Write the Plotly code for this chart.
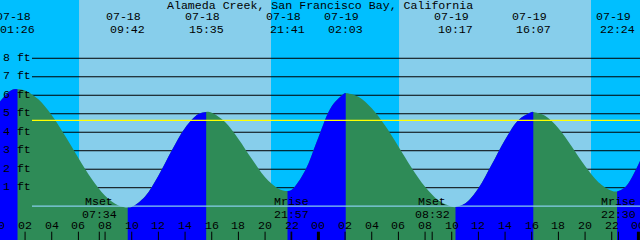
import plotly.graph_objects as go

# ---------------- data ----------------
title_text = "Alameda Creek, San Francisco Bay, California"

# tide extremes
ext_date = ["07-18", "07-18", "07-18", "07-18", "07-19", "07-19", "07-19", "07-19"]
ext_time = ["01:26", "09:42", "15:35", "21:41", "02:03", "10:17", "16:07", "22:24"]
ext_height = [6.33, -0.07, 5.10, 0.82, 6.12, -0.05, 5.10, 0.80]
ext_kind = ["H", "L", "H", "L", "H", "L", "H", "L"]

# hourly tide heights (ft), hours from 07-18 00:00
hour_t = list(range(-1, 50))
hour_h = [4.40, 5.55, 6.29, 6.26, 5.78, 4.92, 3.81, 2.61, 1.47, 0.57,
          0.04, -0.04, 0.53, 1.65, 3.01, 4.23, 4.98, 5.05, 4.55, 3.64,
          2.56, 1.57, 0.95, 0.89, 1.92, 3.72, 5.40, 6.12, 5.92, 5.30,
          4.36, 3.23, 2.07, 1.05, 0.32, -0.03, 0.14, 0.97, 2.25, 3.60,
          4.65, 5.09, 4.89, 4.22, 3.23, 2.17, 1.30, 0.84, 1.02, 2.26,
          4.03]

# sun: sunrise / sunset
sun_date = ["07-18", "07-18", "07-19", "07-19"]
sun_time = ["06:03", "20:27", "06:03", "20:27"]

# moon events
moon_date = ["07-18", "07-18", "07-19", "07-19"]
moon_time = ["07:34", "21:57", "08:32", "22:30"]
moon_label = ["Mset", "Mrise", "Mset", "Mrise"]

level_ft = [1, 2, 3, 4, 5, 6, 7, 8]
mean_level = 4.646
datum_level = 0.0
hour_ticks = list(range(0, 49, 2))

# ---------------- helpers ----------------
day_off = {"07-18": 0, "07-19": 24}


def to_h(d, t):
    hh, mm = t.split(":")
    return day_off[d] + int(hh) + int(mm) / 60.0


X0, X1 = 0.12, 48.12
Y0, Y1 = -1.828, 11.152
W, H = 640, 240
BASE = -3.0

NIGHT = "#00BFFF"
DAY = "#87CEEB"
RISE = "#0000FF"
FALL = "#2E8B57"
FONT = "Liberation Mono"
FS = 11.6

ext_t = [to_h(d, t) for d, t in zip(ext_date, ext_time)]

pts = sorted(list(zip(hour_t, hour_h)) + list(zip(ext_t, ext_height)))
all_t = [p[0] for p in pts]
all_h = [p[1] for p in pts]

fig = go.Figure()


def add_fill(ts, hs, color):
    fig.add_trace(go.Scatter(x=[ts[0], ts[-1]], y=[BASE, BASE], mode="lines",
                             line=dict(width=0), hoverinfo="skip", showlegend=False))
    fig.add_trace(go.Scatter(x=ts, y=hs, mode="lines", fill="tonexty",
                             fillcolor=color, line=dict(width=0, shape="spline", color=color),
                             hoverinfo="skip", showlegend=False))


# falling colour under the whole curve
add_fill(all_t, all_h, FALL)

# rising segments on top
bounds = [all_t[0]] + ext_t + [all_t[-1]]
for i in range(len(bounds) - 1):
    a, b = bounds[i], bounds[i + 1]
    # segment is rising if it ends at a high (or starts at the last low)
    if i < len(ext_kind):
        rising = ext_kind[i] == "H"
    else:
        rising = ext_kind[-1] == "L"
    if not rising:
        continue
    seg = [(t, h) for t, h in pts if a - 1e-9 <= t <= b + 1e-9]
    add_fill([s[0] for s in seg], [s[1] for s in seg], RISE)

shapes = []
# day / night bands
sun_t = [to_h(d, t) for d, t in zip(sun_date, sun_time)]
edges = [X0 - 1] + sun_t + [X1 + 1]
for i in range(len(edges) - 1):
    shapes.append(dict(type="rect", xref="x", yref="paper", x0=edges[i], x1=edges[i + 1],
                       y0=0, y1=1, fillcolor=NIGHT if i % 2 == 0 else DAY,
                       line=dict(width=0), layer="below"))
# level lines (behind the tide)
for lv in level_ft:
    shapes.append(dict(type="line", xref="paper", yref="y", x0=32 / W, x1=1, y0=lv, y1=lv,
                       line=dict(color="black", width=1), layer="below"))
# mean level and datum lines (on top)
shapes.append(dict(type="line", xref="paper", yref="y", x0=32 / W, x1=1, y0=mean_level,
                   y1=mean_level, line=dict(color="#FFFF00", width=1.2)))
shapes.append(dict(type="line", xref="paper", yref="y", x0=32 / W, x1=1, y0=datum_level,
                   y1=datum_level, line=dict(color=DAY, width=1.2)))
# hour ticks
for ht in hour_ticks:
    shapes.append(dict(type="line", xref="x", yref="paper", x0=ht, x1=ht, y0=0, y1=8.3 / H,
                       line=dict(color="black", width=3 if ht % 24 == 0 else 1)))
# moon ticks
moon_t = [to_h(d, t) for d, t in zip(moon_date, moon_time)]
for mt in moon_t:
    shapes.append(dict(type="line", xref="x", yref="paper", x0=mt, x1=mt, y0=0, y1=8.3 / H,
                       line=dict(color="black", width=1)))

ann = []


def txt(x, ypx, s, xref="x", xanchor="center", xshift=0):
    if xref == "x" and not (X0 <= x <= X1):
        x = (x - X0) / (X1 - X0)
        xref = "paper"
    ann.append(dict(x=x, xref=xref, y=1 - ypx / H, yref="paper", text=s, showarrow=False,
                    xanchor=xanchor, yanchor="middle", xshift=xshift,
                    font=dict(family=FONT, size=FS, color="black")))


txt(0.5, 5.5, title_text, xref="paper")
for t, d, tm in zip(ext_t, ext_date, ext_time):
    txt(t, 17, d, xshift=-4)
    txt(t, 29, tm)
for lv in level_ft:
    y_px = (Y1 - lv) / (Y1 - Y0) * H - 1
    ann.append(dict(x=1 / W, xref="paper", y=1 - y_px / H, yref="paper", text=f"{lv} ft",
                    showarrow=False, xanchor="left", yanchor="middle",
                    font=dict(family=FONT, size=FS, color="black")))
for ht in hour_ticks:
    txt(ht, 225.5, f"{ht % 24:02d}")
for mt, lab, tm in zip(moon_t, moon_label, moon_time):
    txt(mt, 201, lab)
    txt(mt, 214, tm)

fig.update_layout(
    width=W, height=H, margin=dict(l=0, r=0, t=0, b=0),
    paper_bgcolor=NIGHT, plot_bgcolor=NIGHT,
    xaxis=dict(range=[X0, X1], visible=False, fixedrange=True),
    yaxis=dict(range=[Y0, Y1], visible=False, fixedrange=True),
    shapes=shapes, annotations=ann, showlegend=False,
)
fig.write_html("out.html", config={"displayModeBar": False})
